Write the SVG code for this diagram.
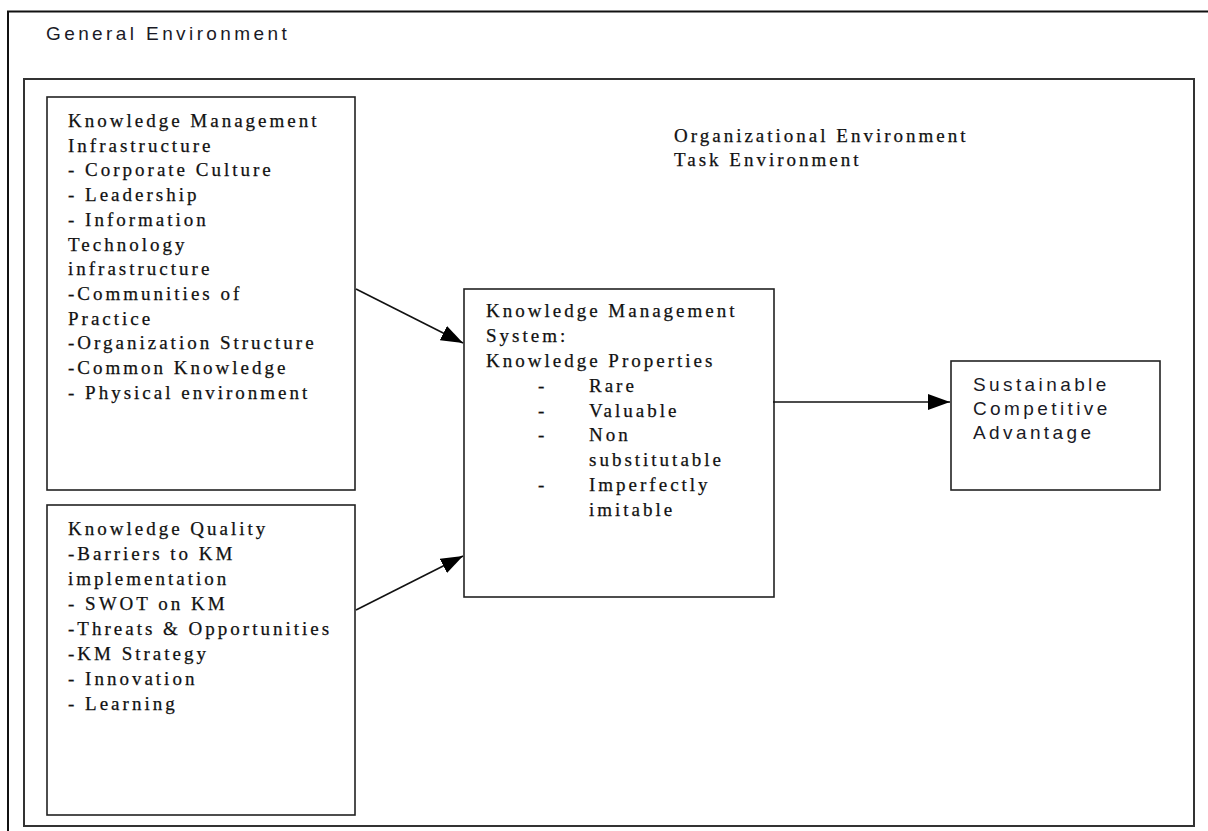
<svg xmlns="http://www.w3.org/2000/svg" width="1208" height="831" viewBox="0 0 1208 831">
  <style>
    .frame { fill: none; stroke: #111; stroke-width: 2; }
    .box { fill: #fff; stroke: #222; stroke-width: 1.6; }
    .serif { font-family: "Liberation Serif", "Times New Roman", serif; font-size: 19px; letter-spacing: 3px; fill: #111; stroke: #111; stroke-width: 0.25; }
    .sans { font-family: "Liberation Sans", Arial, sans-serif; font-size: 19px; letter-spacing: 3.4px; fill: #1a1a26; }
    .conn { stroke: #111; stroke-width: 1.6; fill: none; }
  </style>
  <defs>
    <marker id="arrow" viewBox="0 0 22 16" refX="22" refY="8" markerWidth="22" markerHeight="16" markerUnits="userSpaceOnUse" orient="auto">
      <path d="M0,0 L22,8 L0,16 Z" fill="#000"/>
    </marker>
  </defs>

  <rect width="1208" height="831" fill="#fff"/>

  <!-- General environment frame (open to the right and bottom) -->
  <g id="general-environment">
    <path class="frame" d="M8,831 V11.5 H1208"/>
    <text class="sans" x="46" y="40">General Environment</text>
  </g>

  <!-- Organizational / task environment -->
  <g id="organizational-environment">
    <rect x="24" y="79" width="1170" height="747" fill="none" stroke="#333" stroke-width="2"/>
    <text class="serif" x="674" y="142">Organizational Environment</text>
    <text class="serif" x="674" y="166">Task Environment</text>
  </g>

  <g id="km-infrastructure">
    <rect class="box" x="47" y="97" width="308" height="393"/>
    <text class="serif">
      <tspan x="68" y="127">Knowledge Management</tspan>
      <tspan x="68" y="151.7">Infrastructure</tspan>
      <tspan x="68" y="176.4">- Corporate Culture</tspan>
      <tspan x="68" y="201.1">- Leadership</tspan>
      <tspan x="68" y="225.8">- Information</tspan>
      <tspan x="68" y="250.5">Technology</tspan>
      <tspan x="68" y="275.2">infrastructure</tspan>
      <tspan x="68" y="299.9">-Communities of</tspan>
      <tspan x="68" y="324.6">Practice</tspan>
      <tspan x="68" y="349.3">-Organization Structure</tspan>
      <tspan x="68" y="374">-Common Knowledge</tspan>
      <tspan x="68" y="398.7">- Physical environment</tspan>
    </text>
  </g>

  <g id="knowledge-quality">
    <rect class="box" x="47" y="505" width="308" height="310"/>
    <text class="serif">
      <tspan x="68" y="535">Knowledge Quality</tspan>
      <tspan x="68" y="560">-Barriers to KM</tspan>
      <tspan x="68" y="585">implementation</tspan>
      <tspan x="68" y="610">- SWOT on KM</tspan>
      <tspan x="68" y="635">-Threats &amp; Opportunities</tspan>
      <tspan x="68" y="660">-KM Strategy</tspan>
      <tspan x="68" y="685">- Innovation</tspan>
      <tspan x="68" y="710">- Learning</tspan>
    </text>
  </g>

  <g id="km-system">
    <rect class="box" x="464" y="289" width="310" height="308"/>
    <text class="serif">
      <tspan x="486" y="317">Knowledge Management</tspan>
      <tspan x="486" y="342">System:</tspan>
      <tspan x="486" y="367">Knowledge Properties</tspan>
      <tspan x="538" y="392">-</tspan><tspan x="589" y="392">Rare</tspan>
      <tspan x="538" y="416.5">-</tspan><tspan x="589" y="416.5">Valuable</tspan>
      <tspan x="538" y="441">-</tspan><tspan x="589" y="441">Non</tspan>
      <tspan x="589" y="466">substitutable</tspan>
      <tspan x="538" y="491">-</tspan><tspan x="589" y="491">Imperfectly</tspan>
      <tspan x="589" y="516">imitable</tspan>
    </text>
  </g>

  <g id="competitive-advantage">
    <rect class="box" x="951" y="361" width="209" height="129"/>
    <text class="sans">
      <tspan x="973" y="391">Sustainable</tspan>
      <tspan x="973" y="415">Competitive</tspan>
      <tspan x="973" y="439">Advantage</tspan>
    </text>
  </g>

  <g id="connectors">
    <line class="conn" x1="356" y1="289" x2="463" y2="343" marker-end="url(#arrow)"/>
    <line class="conn" x1="356" y1="610" x2="463" y2="556" marker-end="url(#arrow)"/>
    <line class="conn" x1="773" y1="402" x2="950" y2="402" marker-end="url(#arrow)"/>
  </g>
</svg>
